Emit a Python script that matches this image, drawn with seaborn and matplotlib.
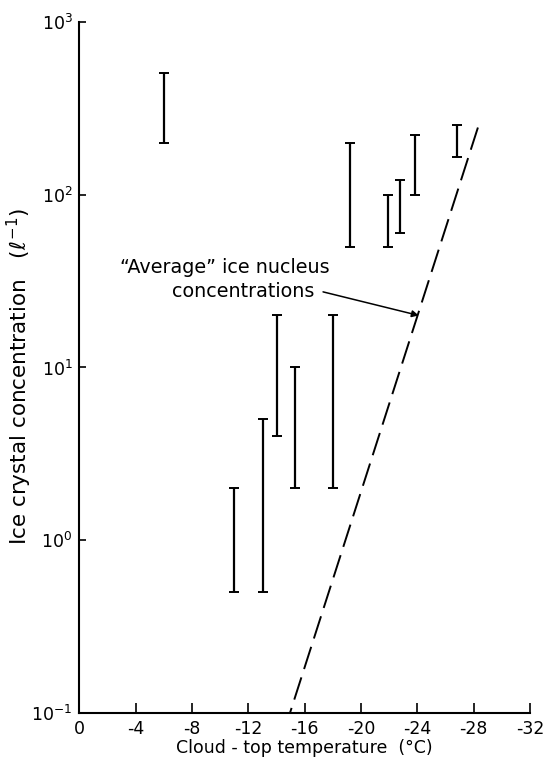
import matplotlib
matplotlib.use("Agg")
import matplotlib.pyplot as plt
import numpy as np
import pandas as pd
import seaborn as sns

# Observed ice crystal concentration ranges by cloud-top temperature
cloud_top_temp = [-6, -11, -13, -14, -15.3, -18, -19.2, -21.9, -22.8, -23.8, -26.8]
conc_low = [200, 0.5, 0.5, 4, 2, 2, 50, 50, 60, 100, 165]
conc_high = [510, 2, 5, 20, 10, 20, 200, 100, 122, 222, 255]

# "Average" ice nucleus concentration line (end points)
nucleus_temp = [-14.95, -28.3]
nucleus_conc = [0.1, 245]

x_ticks = [0, -4, -8, -12, -16, -20, -24, -28, -32]
y_ticks = [0.1, 1, 10, 100, 1000]
y_tick_labels = ["$10^{-1}$", "$10^{0}$", "$10^{1}$", "$10^{2}$", "$10^{3}$"]

sns.set_style("ticks")
plt.rcParams["font.family"] = ["DejaVu Sans"]
plt.rcParams["axes.unicode_minus"] = False
plt.rcParams["mathtext.fontset"] = "dejavusans"
for key in ("text.color", "axes.labelcolor", "xtick.color", "ytick.color",
            "axes.edgecolor"):
    plt.rcParams[key] = "black"

fig = plt.figure(figsize=(5.46, 7.61), dpi=100)
ax = fig.add_axes([0.1456, 0.0631, 0.8251, 0.908])

df_obs = pd.DataFrame({"temp": cloud_top_temp, "low": conc_low, "high": conc_high})
mid = np.sqrt(df_obs["low"] * df_obs["high"])
ax.errorbar(df_obs["temp"], mid,
            yerr=[mid - df_obs["low"], df_obs["high"] - mid],
            fmt="none", ecolor="black", elinewidth=1.6, capsize=3.5,
            capthick=1.4)

df_line = pd.DataFrame({"temp": nucleus_temp, "conc": nucleus_conc})
sns.lineplot(data=df_line, x="temp", y="conc", ax=ax, color="black",
             linewidth=1.4, linestyle=(0, (12, 4.5)))

ax.set_yscale("log")
ax.set_xlim(0, -32)
ax.set_ylim(0.1, 1000)
ax.set_xticks(x_ticks)
ax.set_xticklabels([str(t) for t in x_ticks])
ax.set_yticks(y_ticks)
ax.set_yticklabels(y_tick_labels)
ax.yaxis.set_minor_locator(matplotlib.ticker.NullLocator())

ax.tick_params(axis="x", direction="in", length=7, width=1.2, labelsize=12.5, pad=5)
ax.tick_params(axis="y", direction="in", length=5, width=1.2, labelsize=12.5, pad=5)

sns.despine(ax=ax)
for side in ("left", "bottom"):
    ax.spines[side].set_linewidth(1.5)

ax.set_xlabel("Cloud - top temperature  (°C)", fontsize=12.5, labelpad=1)
ax.set_ylabel("Ice crystal concentration   $(\\ell^{-1})$", fontsize=15.5)
ax.yaxis.set_label_coords(-0.100, 0.487)

ax.text(-10.33, 37.7, "\u201cAverage\u201d ice nucleus", fontsize=13.8,
        ha="center", va="center")
ax.text(-11.6, 27.4, "concentrations", fontsize=13.8, ha="center", va="center")
ax.annotate("", xy=(-24.1, 20), xytext=(-17.3, 27.4),
            arrowprops=dict(arrowstyle="-|>", color="black", lw=1.1,
                            mutation_scale=10, shrinkA=0, shrinkB=0))

fig.savefig("out.png", dpi=100)
